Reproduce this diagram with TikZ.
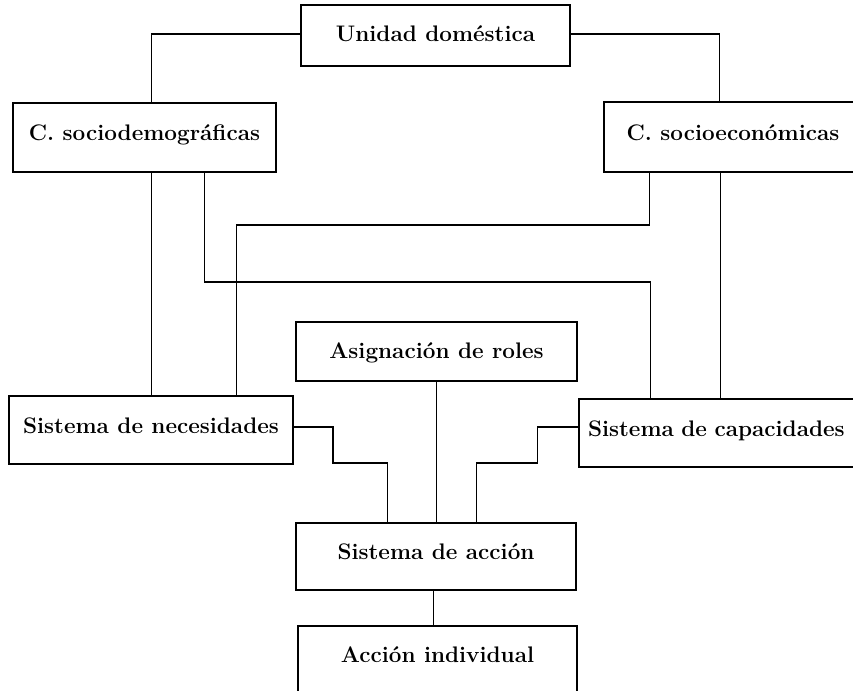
\documentclass[tikz,border=0pt]{standalone}
\usepackage{fontspec}
\usetikzlibrary{positioning}

\begin{document}
\begin{tikzpicture}[x=1pt, y=-1pt,
    caja/.style={draw, line width=1.6pt, inner sep=0pt, text height=15.4pt, text depth=9pt,
        font=\fontsize{22.5}{27}\selectfont\bfseries},
    enlace/.style={line width=1.4pt}]
    \useasboundingbox (0,0) rectangle (853,690);
    \clip (0,0) rectangle (853,690);

    % Cajas
    \node[caja, minimum width=269pt, minimum height=61pt, text depth=3pt] (ud) at (435.5,35.5) {Unidad doméstica};
    \node[caja, minimum width=263pt, minimum height=69pt] (sd) at (144.5,137.5) {C. sociodemográficas};
    \node[caja, minimum width=258pt, minimum height=70pt] (se) at (733,137) {C. socioeconómicas};
    \node[caja, minimum width=281pt, minimum height=59pt, text depth=1pt] (ar) at (436.5,351.5) {Asignación de roles};
    \node[caja, minimum width=284pt, minimum height=68pt] (sn) at (151,430) {Sistema de necesidades};
    \node[caja, minimum width=283pt, minimum height=68pt, text width=283pt, align=left] (sc) at (720.5,433) {\hspace{9pt}Sistema de capacidades};
    \node[caja, minimum width=280pt, minimum height=67pt] (sa) at (436,556.5) {Sistema de acción};
    \node[caja, minimum width=279pt, minimum height=66pt] (ai) at (437.5,659) {Acción individual};

    % Unidad doméstica hacia las características
    \draw[enlace] ([yshift=1.5pt]ud.west) -| ([xshift=139pt]sd.north west);
    \draw[enlace] ([yshift=1.5pt]ud.east) -| ([xshift=116pt]se.north west);

    % Características hacia los sistemas
    \draw[enlace] ([xshift=139pt]sd.south west) -- ([xshift=143pt]sn.north west);
    \draw[enlace] ([xshift=192pt]sd.south west) -- ++(0,109) -| ([xshift=72pt]sc.north west);
    \draw[enlace] ([xshift=46pt]se.south west) -- ++(0,52) -| ([xshift=228pt]sn.north west);
    \draw[enlace] ([xshift=117pt]se.south west) -- ([xshift=142pt]sc.north west);

    % Sistemas hacia el sistema de acción
    \draw[enlace] ([yshift=3pt]sn.east) -- ++(39,0) -- ++(0,36) -| ([xshift=92pt]sa.north west);
    \draw[enlace] ([yshift=6pt]sc.west) -- ++(-41,0) -- ++(0,36) -| ([xshift=181pt]sa.north west);
    \draw[enlace] (ar.south) -- (ar.south |- sa.north);
    \draw[enlace] ([xshift=138pt]sa.south west) -- ([xshift=136pt]ai.north west);
\end{tikzpicture}
\end{document}
